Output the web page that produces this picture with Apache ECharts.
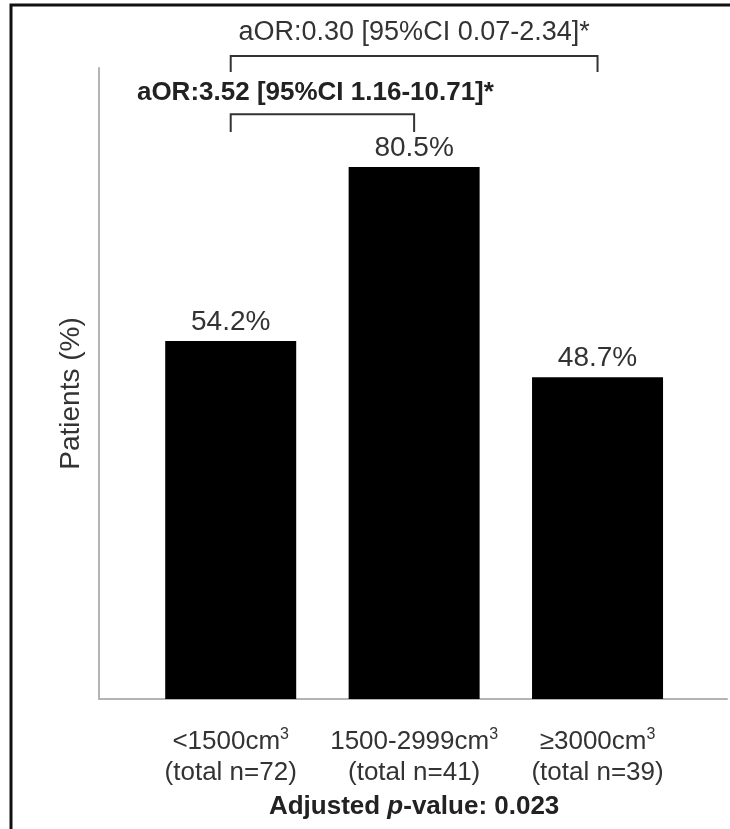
<!DOCTYPE html>
<html><head><meta charset="utf-8">
<script src="https://cdn.jsdelivr.net/npm/echarts@6/dist/echarts.min.js"></script>
<style>html,body{margin:0;padding:0;background:#fff}#c{width:730px;height:829px}</style>
</head><body><div id="c"></div>
<script>
// ---- data ----
const categories = ['<1500cm', '1500-2999cm', '≥3000cm'];
const categoryUnitSup = ['3', '3', '3'];
const totals = ['(total n=72)', '(total n=41)', '(total n=39)'];
const values = [54.2, 80.5, 48.7];
const yAxisTitle = 'Patients (%)';
const pValueParts = ['Adjusted ', 'p', '-value: 0.023'];
const compFrom = [0, 0];
const compTo = [2, 1];
const compText = ['aOR:0.30 [95%CI 0.07-2.34]*', 'aOR:3.52 [95%CI 1.16-10.71]*'];

// ---- drawing ----
const FONT = '"Liberation Sans", Arial, Helvetica, sans-serif';
const TXT = '#333';
const chart = echarts.init(document.getElementById('c'));
const YMAX = 95.5;

chart.setOption({
  animation: false,
  grid: [
    {left: 139, right: 40.75, top: 68, bottom: 130},
    {left: 99, right: 3, top: 68, bottom: 130}
  ],
  xAxis: [
    {
      type: 'category', gridIndex: 0, data: categories,
      axisLine: {show: false}, axisTick: {show: false},
      axisLabel: {
        margin: 27, interval: 0,
        formatter: (v, i) => `{a|${v}}{s|${categoryUnitSup[i]}}\n{a|${totals[i]}}`,
        rich: {
          a: {fontSize: 26, color: TXT, fontFamily: FONT, lineHeight: 31},
          s: {fontSize: 16, color: TXT, fontFamily: FONT, lineHeight: 31, padding: [0, 0, 14, 0]}
        }
      },
      name: `{n|${pValueParts[0]}}{i|${pValueParts[1]}}{n|${pValueParts[2]}}`,
      nameLocation: 'middle', nameGap: 95,
      nameTextStyle: {
        rich: {
          n: {fontSize: 26, fontWeight: 'bold', color: '#222', fontFamily: FONT},
          i: {fontSize: 26, fontWeight: 'bold', fontStyle: 'italic', color: '#222', fontFamily: FONT}
        }
      }
    },
    {
      type: 'category', gridIndex: 1, data: [''],
      axisLine: {show: true, lineStyle: {color: '#b4b4b4', width: 2}},
      axisTick: {show: false}, axisLabel: {show: false}
    }
  ],
  yAxis: [
    {type: 'value', gridIndex: 0, min: 0, max: YMAX, show: false},
    {
      type: 'value', gridIndex: 1, min: 0, max: YMAX,
      axisLine: {show: true, lineStyle: {color: '#b4b4b4', width: 2}},
      axisTick: {show: false}, axisLabel: {show: false}, splitLine: {show: false},
      name: yAxisTitle, nameLocation: 'middle', nameGap: 14, nameRotate: 90,
      nameTextStyle: {fontSize: 28, color: TXT, fontFamily: FONT, padding: [0, 20, 0, 0]}
    }
  ],
  series: [{
    type: 'bar', xAxisIndex: 0, yAxisIndex: 0, data: values, barWidth: 131,
    itemStyle: {color: '#000'},
    label: {show: true, position: 'top', distance: 5, formatter: '{c}%',
            fontSize: 28, color: TXT, fontFamily: FONT}
  }]
});

// brackets placed through the chart's own scales
const levels = [
  {text: 100.8, bar: 97.3, leg: 94.9, bold: false, size: 27},
  {text: 91.8, bar: 88.5, leg: 85.8, bold: true, size: 26}
];
const toPx = (c, v) => chart.convertToPixel({seriesIndex: 0}, [c, v]);
const elements = [{
  type: 'rect', shape: {x: 11, y: 5, width: 800, height: 900},
  style: {fill: null, stroke: '#111', lineWidth: 3}, z: 100
}];
compFrom.forEach((f, k) => {
  const L = levels[k];
  const a1 = toPx(f, L.leg), a2 = toPx(f, L.bar);
  const b1 = toPx(compTo[k], L.bar), b2 = toPx(compTo[k], L.leg);
  elements.push({
    type: 'polyline',
    shape: {points: [a1, a2, b1, b2]},
    style: {fill: null, stroke: '#333', lineWidth: 2}
  });
  const t = toPx((f + compTo[k]) / 2, L.text);
  const midX = (a1[0] + b1[0]) / 2 - (L.bold ? 7 : 0);
  elements.push({
    type: 'text', x: midX, y: t[1],
    style: {
      text: compText[k], x: 0, y: 0,
      align: 'center', verticalAlign: 'middle',
      textAlign: 'center', textVerticalAlign: 'middle',
      font: (L.bold ? 'bold ' : '') + L.size + 'px ' + FONT,
      fill: L.bold ? '#222' : TXT
    }
  });
});
chart.setOption({graphic: {elements}});
</script>
</body></html>
